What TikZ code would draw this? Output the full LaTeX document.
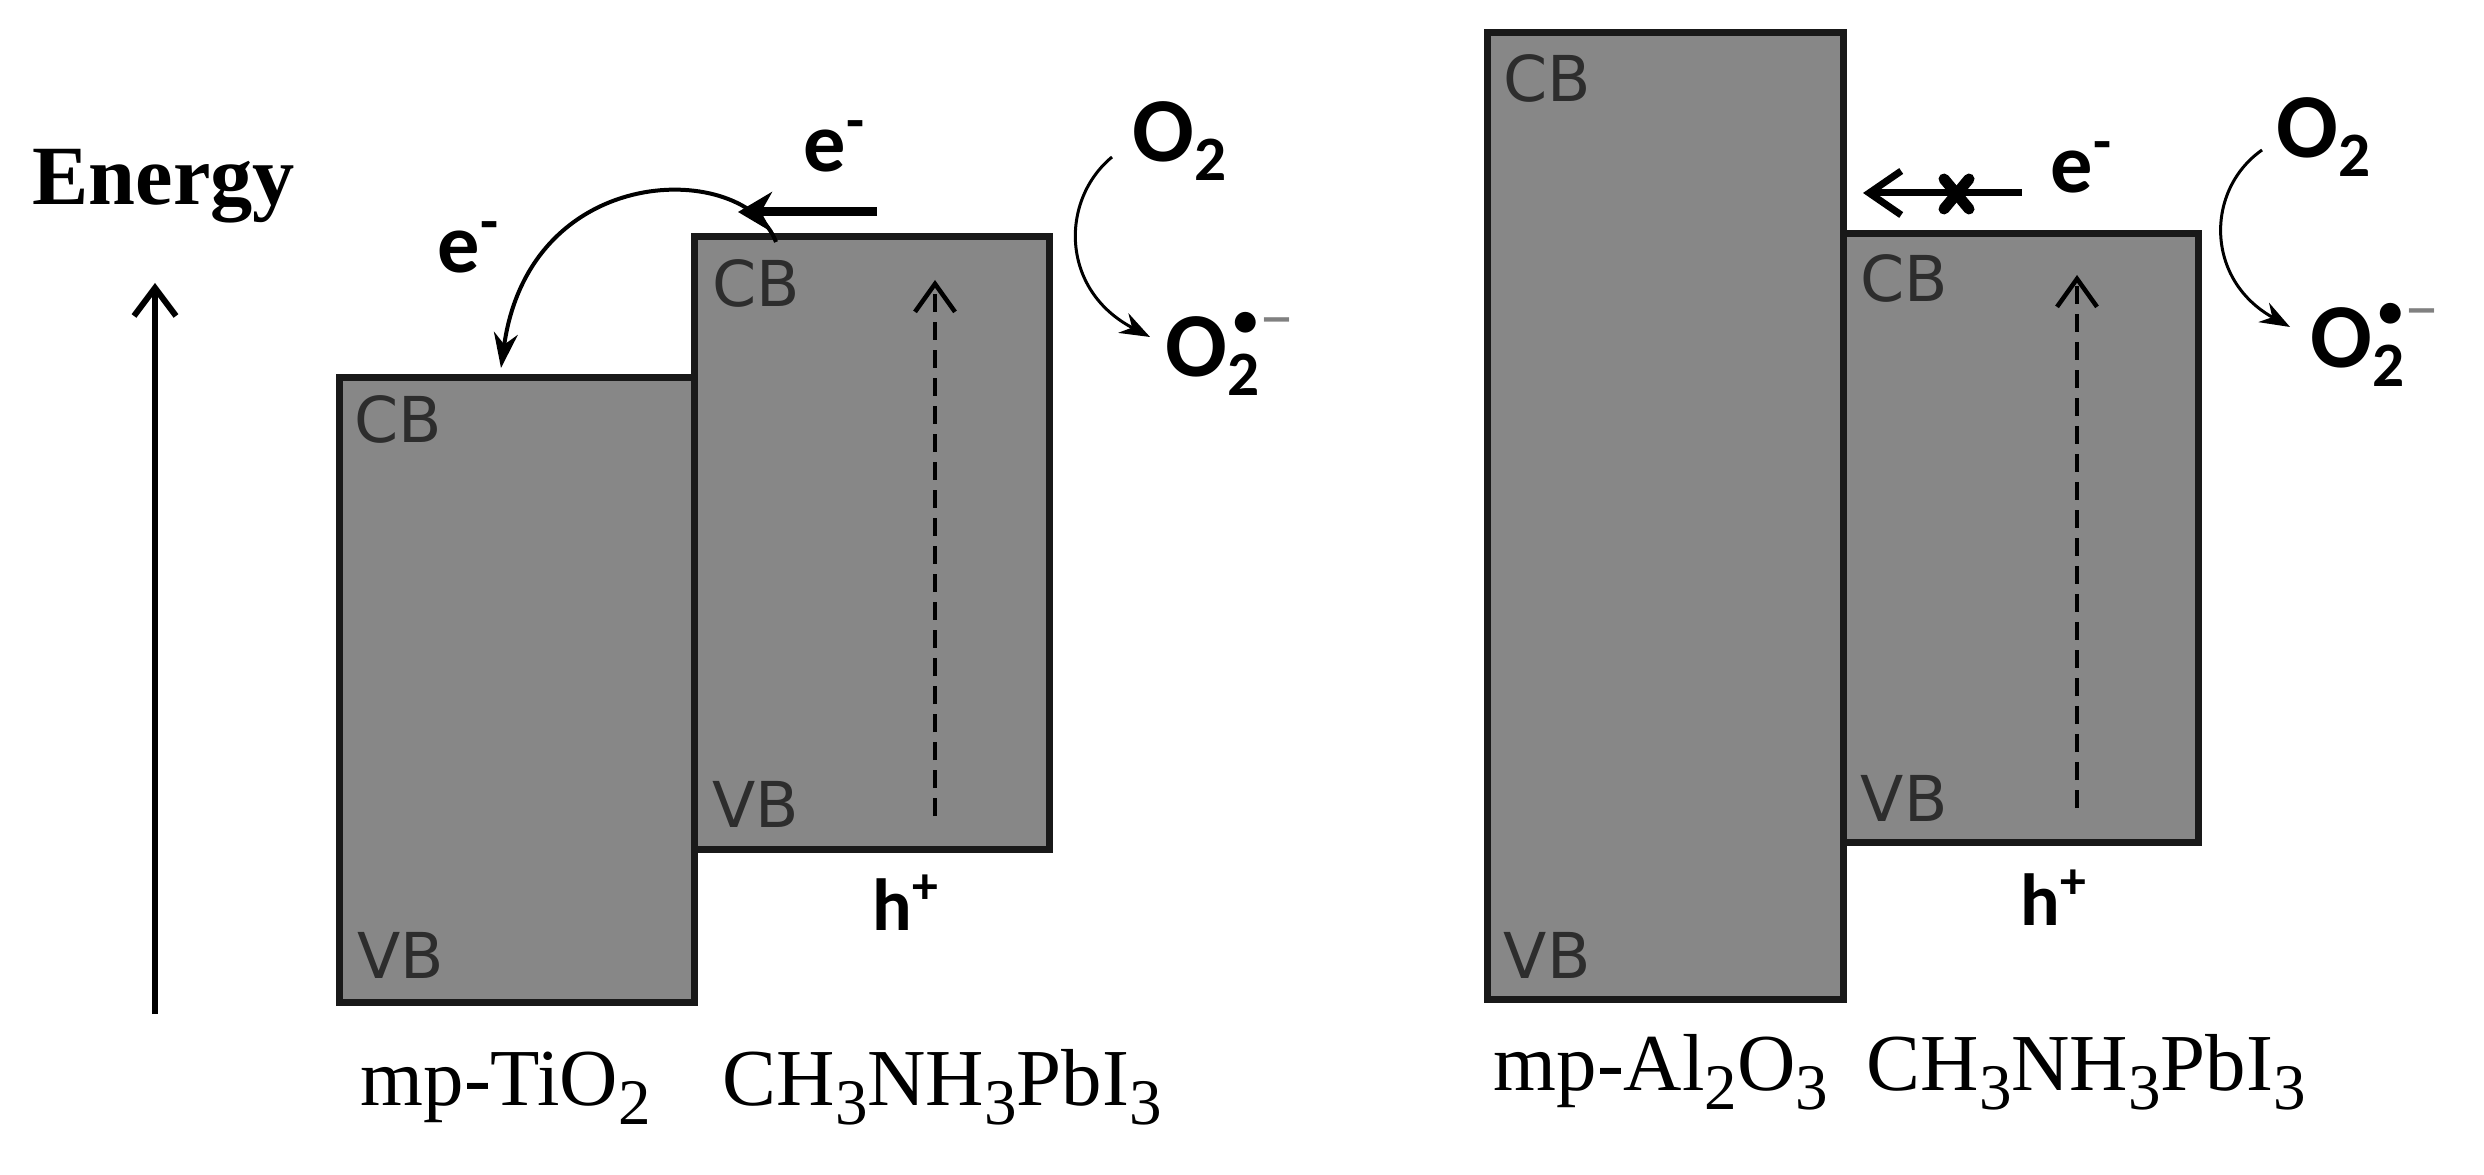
\documentclass[tikz,border=0pt]{standalone}
\usepackage{fontspec}
\setmainfont{Liberation Serif}
\newfontfamily\cbfont{DejaVu Sans}
\newfontfamily\chgfont{Carlito}
\usetikzlibrary{arrows.meta}
\definecolor{bandgray}{RGB}{135,135,135}
\definecolor{bandedge}{RGB}{25,25,25}
\definecolor{cbtext}{RGB}{45,45,45}
\newcommand{\lsub}[1]{\raisebox{-0.24em}{\fontsize{18.5}{18.5}\selectfont #1}}
\newcommand{\osub}[1]{\raisebox{-0.2em}{\fontsize{18}{18}\selectfont #1}}
\newcommand{\superox}{O\rlap{\kern0.06em\raisebox{0.44em}{\fontsize{14}{14}\selectfont •}}\osub{2}\raisebox{0.41em}{\fontsize{20}{20}\selectfont\mdseries\color{gray}–}}
\begin{document}
\begin{tikzpicture}[x=0.1mm,y=-0.1mm,
  band/.style={draw=bandedge, fill=bandgray, line width=0.7mm, inner sep=0pt, outer sep=0pt, anchor=north west},
  bandlbl/.style={anchor=base west, inner sep=0pt, text=cbtext, font=\cbfont\fontsize{18}{18}\selectfont},
  chg/.style={anchor=base west, inner sep=0pt, font=\chgfont\bfseries\fontsize{24}{24}\selectfont},
  oxy/.style={anchor=base west, inner sep=0pt, font=\chgfont\bfseries\fontsize{26}{26}\selectfont},
  hole/.style={anchor=base west, inner sep=0pt, font=\chgfont\bfseries\fontsize{21}{21}\selectfont},
  matlbl/.style={anchor=base west, inner sep=0pt, font=\fontsize{23}{23}\selectfont},
  excite/.style={line width=0.45mm, dash pattern=on 1.8mm off 1mm, -{Straight Barb[length=2.8mm,width=4mm,line width=0.45mm]}},
  transfer/.style={line width=0.4mm, -{Stealth[length=3.5mm,width=2.4mm]}},
  pushe/.style={line width=0.9mm, -{Stealth[length=3.4mm,width=4mm]}},
  blocked/.style={line width=0.7mm, -{Straight Barb[length=3.2mm,width=4.4mm,line width=0.7mm]}},
  reduce/.style={line width=0.3mm, -{Stealth[length=3mm,width=2.2mm]}}
]
\useasboundingbox (0,0) rectangle (2484,1175);
\fill[white] (0,0) rectangle (2484,1175);

% Energy axis
\node[anchor=base west, inner sep=0pt, font=\bfseries\fontsize{24}{24}\selectfont] (energy) at (32,205) {Energy};
\coordinate (ebot) at (155,1014);
\coordinate (etop) at (155,283);
\draw[line width=0.6mm, -{Straight Barb[length=2.8mm,width=4.2mm,line width=0.6mm]}] (ebot) -- (etop);

% ---------- left diagram ----------
\node[band, minimum width=35.5mm, minimum height=62.5mm] (tio2) at (339,378) {};
\node[band, minimum width=35.5mm, minimum height=61.3mm] (pvkL) at (694,237) {};
\node[bandlbl] (tio2cb) at (354,443) {CB};
\node[bandlbl] (tio2vb) at (357,978) {VB};
\node[bandlbl] (pvkLcb) at (712,307) {CB};
\node[bandlbl] (pvkLvb) at (712,828) {VB};

\coordinate (dL1) at (935,816);
\coordinate (dL2) at (935,280);
\draw[excite] (dL1) -- (dL2);
\node[hole] (hL) at (872,930) {h\textsuperscript{+}};

\coordinate (hs) at (877,212);
\coordinate (he) at (738,212);
\draw[pushe] (hs) -- (he);
\node[chg] (eL1) at (803,172) {e\textsuperscript{-}};

\coordinate (cs) at (776,242);
\coordinate (ce) at (501,368);
\draw[transfer] (cs) .. controls (745,160) and (530,160) .. (ce);
\node[chg] (eL2) at (437,273) {e\textsuperscript{-}};

\node[oxy] (o2L) at (1132,162) {O\osub{2}};
\node[oxy] (supL) at (1165,377) {\superox};
\coordinate (o1s) at (1112,157);
\coordinate (o1e) at (1150,337);
\draw[reduce] (o1s) .. controls (1060,200) and (1060,290) .. (o1e);

\node[matlbl] (tio2lbl) at (360,1105) {mp-TiO\lsub{2}};
\node[matlbl] (pvkLlbl) at (722,1105) {CH\lsub{3}NH\lsub{3}PbI\lsub{3}};

% ---------- right diagram ----------
\node[band, minimum width=35.6mm, minimum height=96.7mm] (al2o3) at (1487,33) {};
\node[band, minimum width=35.5mm, minimum height=60.9mm] (pvkR) at (1843,234) {};
\node[bandlbl] (alcb) at (1503,102) {CB};
\node[bandlbl] (alvb) at (1503,978) {VB};
\node[bandlbl] (pvkRcb) at (1860,302) {CB};
\node[bandlbl] (pvkRvb) at (1860,821) {VB};

\coordinate (dR1) at (2077,808);
\coordinate (dR2) at (2077,275);
\draw[excite] (dR1) -- (dR2);
\node[hole] (hR) at (2020,925) {h\textsuperscript{+}};

\coordinate (rs) at (2022,193);
\coordinate (re) at (1863,193);
\draw[blocked] (rs) -- (re);
\coordinate (x1) at (1944,179);
\coordinate (x2) at (1969,209);
\coordinate (x3) at (1944,209);
\coordinate (x4) at (1969,179);
\draw[line width=1.1mm, line cap=round] (x1) -- (x2);
\draw[line width=1.1mm, line cap=round] (x3) -- (x4);
\node[chg] (eR) at (2050,193) {e\textsuperscript{-}};

\node[oxy] (o2R) at (2276,158) {O\osub{2}};
\node[oxy] (supR) at (2310,368) {\superox};
\coordinate (o2s) at (2262,150);
\coordinate (o2e) at (2290,327);
\draw[reduce] (o2s) .. controls (2205,190) and (2205,280) .. (o2e);

\node[matlbl] (allbl) at (1493,1090) {mp-Al\lsub{2}O\lsub{3}};
\node[matlbl] (pvkRlbl) at (1866,1090) {CH\lsub{3}NH\lsub{3}PbI\lsub{3}};
\end{tikzpicture}
\end{document}
